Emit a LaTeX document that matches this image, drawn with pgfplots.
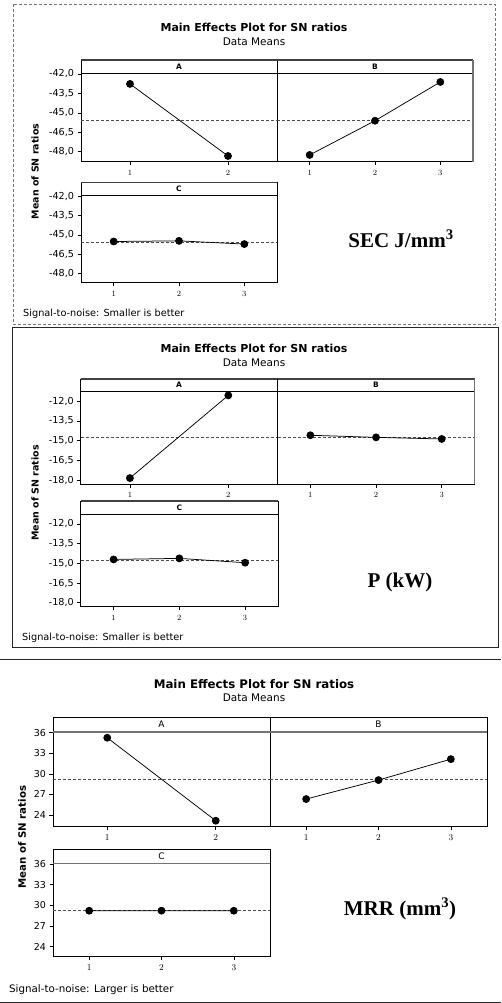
\documentclass[border=0pt]{standalone}
\usepackage{pgfplots}
\pgfplotsset{compat=1.18}
\usepackage{fontspec}
\setmainfont{DejaVu Sans}
\newfontfamily\tnr{Liberation Serif}
\newcommand{\fs}[1]{\fontsize{#1}{#1}\selectfont}
\newcommand{\stripA}[2]{%
  \draw[line width=0.8pt] (rel axis cs:0,1) rectangle ([yshift=#1pt]rel axis cs:1,1);
  \draw[line width=1.5pt, black!75] ([yshift=#1pt]rel axis cs:0,1) -- ([yshift=#1pt]rel axis cs:1,1);
  \node[font=\bfseries\fs{7.5}] at ([yshift=#1pt/2]rel axis cs:0.5,1) {#2};}
\newcommand{\stripB}[2]{%
  \draw[line width=0.8pt] (rel axis cs:0,1) rectangle ([yshift=#1pt]rel axis cs:1,1);
  \draw[line width=1.6pt, black!55] (rel axis cs:0,1) -- (rel axis cs:1,1);
  \node[font=\fs{9}] at ([yshift=#1pt/2]rel axis cs:0.5,1) {#2};}
\newcommand{\rshadow}[1]{%
  \draw[line width=1.4pt, black!55] (rel axis cs:1,0) -- ([yshift=#1pt]rel axis cs:1,1);}
\pgfplotsset{
 mep/.style={scale only axis, anchor=south west, clip=false,
   axis line style={line width=0.9pt, black},
   tick align=outside, major tick length=3.5pt,
   xtick pos=left, ytick pos=left,
   tick style={line width=0.6pt, black},
   xmin=0.5, enlargelimits=false,
   xticklabel style={font=\fs{8}, yshift=-1.5pt},
   yticklabel style={font=\fs{9.6}},
 },
 mep3/.style={mep,
   xticklabel style={font=\fs{9.3}},
   yticklabel style={font=\fs{9.5}},
 },
 pts/.style={black, line width=0.75pt, mark=*, mark size=3.5pt},
 mline/.style={black!70, line width=0.75pt, dash pattern=on 3pt off 2pt},
}
\begin{document}
\begin{tikzpicture}
\path[use as bounding box] (0pt,0pt) rectangle (501pt,-1003pt);
% frames
\draw[black!55, line width=0.9pt, dash pattern=on 3pt off 2pt] (13pt,-4pt) rectangle (495pt,-324pt);
\draw[black!85, line width=0.9pt] (12pt,-327pt) rectangle (498pt,-647pt);
\draw[black!85, line width=0.9pt] (0pt,-659pt) -- (501pt,-659pt);
\draw[black!85, line width=0.9pt] (0pt,-1002pt) -- (501pt,-1002pt);

% ---------------- Panel 1: SEC ----------------
\node[anchor=base, font=\bfseries\fs{11}] at (254pt,-31.7pt) {Main Effects Plot for SN ratios};
\node[anchor=base, font=\fs{10.5}] at (254pt,-45.7pt) {Data Means};
\node[rotate=90, font=\bfseries\fs{9.5}] at (35pt,-171.5pt) {Mean of SN ratios};
\node[anchor=base west, inner sep=0pt, font=\fs{9.75}] at (23pt,-316pt) {Signal-to-noise: Smaller is better};
\node[anchor=base, font=\tnr\bfseries\fs{21}] at (401pt,-247.3pt) {SEC J/mm\textsuperscript{3}};

\begin{axis}[mep, at={(81pt,-161.7pt)}, width=196pt, height=88.4pt,
  xmax=2.5, xtick={1,2}, ymin=-48.77, ymax=-41.95,
  ytick={-48,-46.5,-45,-43.5,-42}, yticklabels={{-48,0},{-46,5},{-45,0},{-43,5},{-42,0}}]
\addplot[mline] coordinates {(0.5,-45.58) (2.5,-45.58)};
\addplot[pts] coordinates {(1,-42.77) (2,-48.33)};
\stripA{13.3}{A}
\end{axis}
\begin{axis}[mep, at={(277pt,-161.7pt)}, width=196pt, height=88.4pt,
  xmax=3.5, xtick={1,2,3}, ymin=-48.77, ymax=-41.95, ytick=\empty]
\addplot[mline] coordinates {(0.5,-45.58) (3.5,-45.58)};
\addplot[pts] coordinates {(1,-48.25) (2,-45.61) (3,-42.62)};
\stripA{13.3}{B}
\rshadow{13.3}
\end{axis}
\begin{axis}[mep, at={(81pt,-282.7pt)}, width=196pt, height=87.4pt,
  xmax=3.5, xtick={1,2,3}, ymin=-48.73, ymax=-41.92,
  ytick={-48,-46.5,-45,-43.5,-42}, yticklabels={{-48,0},{-46,5},{-45,0},{-43,5},{-42,0}}]
\addplot[mline] coordinates {(0.5,-45.58) (3.5,-45.58)};
\addplot[pts] coordinates {(1,-45.52) (2,-45.47) (3,-45.72)};
\stripA{12.6}{C}
\end{axis}

% ---------------- Panel 2: P ----------------
\node[anchor=base, font=\bfseries\fs{11}] at (254pt,-352.7pt) {Main Effects Plot for SN ratios};
\node[anchor=base, font=\fs{10.5}] at (254pt,-366pt) {Data Means};
\node[rotate=90, font=\bfseries\fs{9.5}] at (35pt,-493pt) {Mean of SN ratios};
\node[anchor=base west, inner sep=0pt, font=\fs{9.75}] at (22pt,-640pt) {Signal-to-noise: Smaller is better};
\node[anchor=base, font=\tnr\bfseries\fs{21}] at (400pt,-587.3pt) {P (kW)};

\begin{axis}[mep, at={(80.7pt,-484pt)}, width=196.8pt, height=93pt,
  xmax=2.5, xtick={1,2}, ymin=-18.28, ymax=-11.24,
  ytick={-18,-16.5,-15,-13.5,-12}, yticklabels={{-18,0},{-16,5},{-15,0},{-13,5},{-12,0}}]
\addplot[mline] coordinates {(0.5,-14.77) (2.5,-14.77)};
\addplot[pts] coordinates {(1,-17.83) (2,-11.57)};
\stripA{12}{A}
\end{axis}
\begin{axis}[mep, at={(277.5pt,-484pt)}, width=197.1pt, height=93pt,
  xmax=3.5, xtick={1,2,3}, ymin=-18.28, ymax=-11.24, ytick=\empty]
\addplot[mline] coordinates {(0.5,-14.77) (3.5,-14.77)};
\addplot[pts] coordinates {(1,-14.59) (2,-14.75) (3,-14.87)};
\stripA{12}{B}
\rshadow{12}
\end{axis}
\begin{axis}[mep, at={(80.7pt,-606.7pt)}, width=197.3pt, height=92.7pt,
  xmax=3.5, xtick={1,2,3}, ymin=-18.3, ymax=-11.24,
  ytick={-18,-16.5,-15,-13.5,-12}, yticklabels={{-18,0},{-16,5},{-15,0},{-13,5},{-12,0}}]
\addplot[mline] coordinates {(0.5,-14.77) (3.5,-14.77)};
\addplot[pts] coordinates {(1,-14.70) (2,-14.62) (3,-14.95)};
\stripA{13}{C}
\end{axis}

% ---------------- Panel 3: MRR ----------------
\node[anchor=base, font=\bfseries\fs{11.8}] at (254pt,-688.3pt) {Main Effects Plot for SN ratios};
\node[anchor=base, font=\fs{10.5}] at (254pt,-701.7pt) {Data Means};
\node[rotate=90, font=\bfseries\fs{10.2}] at (22pt,-837pt) {Mean of SN ratios};
\node[anchor=base west, inner sep=0pt, font=\fs{10.3}] at (9pt,-992.7pt) {Signal-to-noise: Larger is better};
\node[anchor=base, font=\tnr\bfseries\fs{21}] at (400pt,-915.3pt) {MRR (mm\textsuperscript{3})};

\begin{axis}[mep3, at={(53pt,-826pt)}, width=217pt, height=94.3pt,
  xmax=2.5, xtick={1,2}, ymin=22.4, ymax=36.15,
  ytick={24,27,30,33,36}, yticklabels={24,27,30,33,36}]
\addplot[mline] coordinates {(0.5,29.2) (2.5,29.2)};
\addplot[pts] coordinates {(1,35.27) (2,23.17)};
\stripB{14}{A}
\end{axis}
\begin{axis}[mep3, at={(270pt,-826pt)}, width=217pt, height=94.3pt,
  xmax=3.5, xtick={1,2,3}, ymin=22.4, ymax=36.15, ytick=\empty]
\addplot[mline] coordinates {(0.5,29.2) (3.5,29.2)};
\addplot[pts] coordinates {(1,26.33) (2,29.10) (3,32.15)};
\stripB{14}{B}
\end{axis}
\begin{axis}[mep3, at={(53pt,-956pt)}, width=217pt, height=92.7pt,
  xmax=3.5, xtick={1,2,3}, ymin=22.65, ymax=36.1,
  ytick={24,27,30,33,36}, yticklabels={24,27,30,33,36}]
\addplot[mline] coordinates {(0.5,29.2) (3.5,29.2)};
\addplot[pts] coordinates {(1,29.22) (2,29.23) (3,29.22)};
\stripB{14.3}{C}
\end{axis}
\end{tikzpicture}
\end{document}
